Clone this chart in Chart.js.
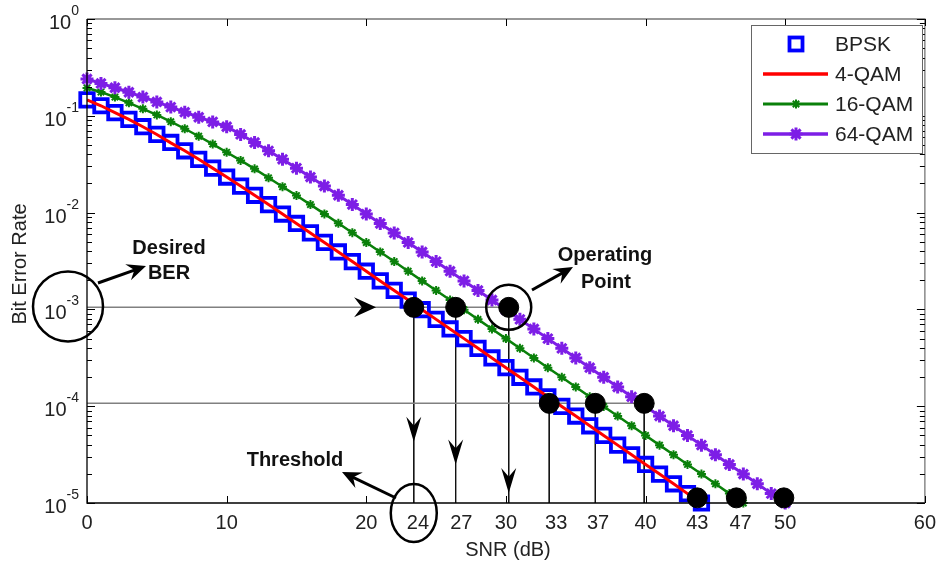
<!DOCTYPE html>
<html>
<head>
<meta charset="utf-8">
<title>BER vs SNR</title>
<script src="https://cdn.jsdelivr.net/npm/chart.js@4.4.1/dist/chart.umd.min.js"></script>
<style>
  body { margin: 0; background: #fff; }
  #wrap { width: 944px; height: 562px; }
</style>
</head>
<body>
<div id="wrap"><canvas id="berChart" width="944" height="562"></canvas></div>
<script>
// SNR axis (dB), shared by every curve
const snrDb = [0, 1, 2, 3, 4, 5, 6, 7, 8, 9, 10, 11, 12, 13, 14, 15, 16, 17, 18, 19, 20,
    21, 22, 23, 24, 25, 26, 27, 28, 29, 30, 31, 32, 33, 34, 35, 36, 37, 38, 39, 40,
    41, 42, 43, 44, 45, 46, 47, 48, 49, 50];

const berBpsk = [0.146, 0.127, 0.108, 0.0919, 0.0771, 0.0642, 0.0530, 0.0435, 0.0355, 0.0288,
    0.0233, 0.0188, 0.0151, 0.0121, 0.00966, 0.00772, 0.00617, 0.00492, 0.00392, 0.00312,
    0.00248, 0.00197, 0.00157, 0.00125, 0.000992, 0.000789, 0.000628, 0.000499, 0.000396, 0.000315,
    0.000250, 0.000199, 0.000158, 0.000125, 0.0000995, 0.0000791, 0.0000628, 0.0000499, 0.0000396, 0.0000315,
    0.0000250, 0.0000199, 0.0000158, 0.0000125, 0.0000100];

const ber4Qam = [0.146, 0.127, 0.108, 0.0919, 0.0771, 0.0642, 0.0525, 0.0435, 0.0355, 0.0288,
    0.0233, 0.0188, 0.0151, 0.0121, 0.00966, 0.00772, 0.00617, 0.00492, 0.00392, 0.00312,
    0.00248, 0.00197, 0.00157, 0.00125, 0.000992, 0.000789, 0.000628, 0.000499, 0.000396, 0.000315,
    0.000250, 0.000199, 0.000158, 0.000125, 0.0000995, 0.0000791, 0.0000628, 0.0000499, 0.0000396, 0.0000315,
    0.0000250, 0.0000199, 0.0000158, 0.0000125, 0.0000100];

const ber16Qam = [0.194, 0.176, 0.156, 0.136, 0.118, 0.102, 0.0870, 0.0735, 0.0615, 0.0510,
    0.0420, 0.0346, 0.0283, 0.0229, 0.0185, 0.0150, 0.0121, 0.00970, 0.00775, 0.00620,
    0.00490, 0.00392, 0.00312, 0.00248, 0.00197, 0.00157, 0.00125, 0.000992, 0.000789, 0.000628,
    0.000499, 0.000396, 0.000315, 0.000250, 0.000199, 0.000158, 0.000125, 0.0000995, 0.0000791, 0.0000628,
    0.0000499, 0.0000396, 0.0000315, 0.0000250, 0.0000199, 0.0000158, 0.0000125, 0.0000100];

const ber64Qam = [0.240, 0.216, 0.195, 0.175, 0.156, 0.139, 0.123, 0.109, 0.0966, 0.0865,
    0.0771, 0.0642, 0.0530, 0.0435, 0.0355, 0.0288, 0.0233, 0.0188, 0.0151, 0.0121,
    0.00966, 0.00772, 0.00617, 0.00492, 0.00392, 0.00312, 0.00248, 0.00197, 0.00157, 0.00125,
    0.000992, 0.000789, 0.000628, 0.000499, 0.000396, 0.000315, 0.000250, 0.000199, 0.000158, 0.000125,
    0.0000995, 0.0000791, 0.0000628, 0.0000499, 0.0000396, 0.0000315, 0.0000250, 0.0000199, 0.0000158, 0.0000125,
    0.0000100];

// black operating / threshold dots
const dotSnr = [23.4, 26.4, 30.2, 33.1, 36.4, 39.9, 43.7, 46.5, 49.9];
const dotBer = [1.05e-3, 1.05e-3, 1.05e-3, 1.07e-4, 1.07e-4, 1.07e-4, 1.13e-5, 1.13e-5, 1.13e-5];

// horizontal guide lines (desired BER levels) and where they stop
const hGuideBer = [1.05e-3, 1.07e-4];
const hGuideEnd = [30.2, 39.9];

// x tick labels, hand placed under the dots
const xTickValues = [0, 10, 20, 23.7, 26.8, 30, 33.6, 36.6, 40, 43.7, 46.8, 50, 60];
const xTickLabels = ['0', '10', '20', '24', '27', '30', '33', '37', '40', '43', '47', '50', '60'];

// y decades
const yDecades = [0, -1, -2, -3, -4, -5];

const FONT = '"Liberation Sans", Arial, sans-serif';
const TXT = '#222';

const toPoints = (ys) => ys.map((v, i) => ({ x: snrDb[i], y: v }));

const curves = [
    { label: 'BPSK', data: toPoints(berBpsk), showLine: false, pointStyle: 'rect', pointRadius: 9.5,
      borderColor: '#0000ff', backgroundColor: 'rgba(0,0,0,0)', pointBorderWidth: 3.8, order: 5, clip: false },
    { label: '4-QAM', data: toPoints(ber4Qam), showLine: true, borderColor: '#ff0000', borderWidth: 3,
      pointRadius: 0, order: 4 },
    { label: '16-QAM', data: toPoints(ber16Qam), showLine: true, borderColor: '#0a800a', borderWidth: 2.5,
      pointStyle: 'star', pointRadius: 4.5, pointBorderWidth: 2, pointBorderColor: '#0a800a', order: 3, clip: false },
    { label: '64-QAM', data: toPoints(ber64Qam), showLine: true, borderColor: '#7d1ee6', borderWidth: 3,
      pointStyle: 'star', pointRadius: 6.5, pointBorderWidth: 3, pointBorderColor: '#7d1ee6', order: 2, clip: false }
];

const guides = [];
hGuideBer.forEach((b, i) => {
    guides.push({ label: '_h' + i, data: [{ x: 0, y: b }, { x: hGuideEnd[i], y: b }], showLine: true,
        borderColor: '#808080', borderWidth: 1.5, pointRadius: 0, order: 7 });
});
dotSnr.slice(0, 6).forEach((s, i) => {
    guides.push({ label: '_v' + i, data: [{ x: s, y: dotBer[i] }, { x: s, y: 1e-5 }], showLine: true,
        borderColor: '#111', borderWidth: 1, pointRadius: 0, order: 7 });
});

const dots = {
    label: '_dots', data: dotSnr.map((s, i) => ({ x: s, y: dotBer[i] })), showLine: false,
    pointRadius: 10, pointBackgroundColor: '#000', pointBorderColor: '#000', pointBorderWidth: 1,
    order: 0, clip: false
};

function drawStar(ctx, x, y, r) {
    const d = r * Math.SQRT1_2;
    ctx.beginPath();
    ctx.moveTo(x - r, y); ctx.lineTo(x + r, y);
    ctx.moveTo(x, y - r); ctx.lineTo(x, y + r);
    ctx.moveTo(x - d, y - d); ctx.lineTo(x + d, y + d);
    ctx.moveTo(x - d, y + d); ctx.lineTo(x + d, y - d);
    ctx.stroke();
}

// filled arrowhead with a notched back, tip at (tx, ty)
function arrowHead(ctx, tx, ty, ang, len, wid) {
    const c = Math.cos(ang), s = Math.sin(ang);
    const bx = tx - c * len, by = ty - s * len;
    const nx = tx - c * len * 0.65, ny = ty - s * len * 0.65;
    ctx.beginPath();
    ctx.moveTo(tx, ty);
    ctx.lineTo(bx - s * wid / 2, by + c * wid / 2);
    ctx.lineTo(nx, ny);
    ctx.lineTo(bx + s * wid / 2, by - c * wid / 2);
    ctx.closePath();
    ctx.fill();
}

function callout(ctx, x0, y0, x1, y1) {
    const ang = Math.atan2(y1 - y0, x1 - x0);
    ctx.lineWidth = 3;
    ctx.beginPath();
    ctx.moveTo(x0, y0);
    ctx.lineTo(x1 - Math.cos(ang) * 10, y1 - Math.sin(ang) * 10);
    ctx.stroke();
    arrowHead(ctx, x1, y1, ang, 19, 17);
}

const decorations = {
    id: 'decorations',
    afterDraw(chart) {
        const { ctx, chartArea: a, scales } = chart;
        const x = scales.x, y = scales.y;
        ctx.save();

        // frame
        ctx.lineWidth = 1.3;
        ctx.strokeStyle = '#777';
        ctx.beginPath();
        ctx.moveTo(a.left, a.top); ctx.lineTo(a.right, a.top); ctx.lineTo(a.right, a.bottom);
        ctx.stroke();
        ctx.strokeStyle = '#000';
        ctx.beginPath();
        ctx.moveTo(a.left, a.top); ctx.lineTo(a.left, a.bottom); ctx.lineTo(a.right, a.bottom);
        ctx.stroke();

        // log ticks, inside, both sides
        ctx.lineWidth = 1;
        ctx.strokeStyle = '#000';
        ctx.beginPath();
        for (let k = -5; k <= 0; k++) {
            for (let m = 1; m <= 9; m++) {
                const v = m * Math.pow(10, k);
                if (v > 1 || (k === 0 && m > 1)) continue;
                const py = Math.round(y.getPixelForValue(v)) + 0.5;
                const len = m === 1 ? 8 : 5;
                ctx.moveTo(a.left, py); ctx.lineTo(a.left + len, py);
                ctx.moveTo(a.right, py); ctx.lineTo(a.right - len, py);
            }
        }
        for (let v = 0; v <= 60; v += 10) {
            const px = Math.round(x.getPixelForValue(v)) + 0.5;
            ctx.moveTo(px, a.bottom); ctx.lineTo(px, a.bottom - 7);
            ctx.moveTo(px, a.top); ctx.lineTo(px, a.top + 7);
        }
        ctx.stroke();

        // y tick labels 10^k
        ctx.fillStyle = TXT;
        yDecades.forEach(k => {
            const py = y.getPixelForValue(Math.pow(10, k));
            const exp = String(k);
            ctx.font = '14px ' + FONT;
            const ew = ctx.measureText(exp).width;
            const right = a.left - 8;
            ctx.textAlign = 'left';
            ctx.textBaseline = 'alphabetic';
            ctx.fillText(exp, right - ew, py - 4);
            ctx.font = '20px ' + FONT;
            ctx.textAlign = 'right';
            ctx.fillText('10', right - ew, py + 10);
        });

        // axis titles
        ctx.font = '20px ' + FONT;
        ctx.textAlign = 'center';
        ctx.textBaseline = 'middle';
        ctx.fillText('SNR (dB)', 508, 550);
        ctx.save();
        ctx.translate(20, 264);
        ctx.rotate(-Math.PI / 2);
        ctx.fillText('Bit Error Rate', 0, 0);
        ctx.restore();

        // guide arrowheads
        ctx.fillStyle = '#000';
        const yRow1 = y.getPixelForValue(hGuideBer[0]);
        arrowHead(ctx, x.getPixelForValue(20.7), yRow1, 0, 22, 20);
        arrowHead(ctx, x.getPixelForValue(dotSnr[0]), y.getPixelForValue(4.3e-5), Math.PI / 2, 25, 15);
        arrowHead(ctx, x.getPixelForValue(dotSnr[1]), y.getPixelForValue(2.5e-5), Math.PI / 2, 25, 15);
        arrowHead(ctx, x.getPixelForValue(dotSnr[2]), y.getPixelForValue(1.27e-5), Math.PI / 2, 25, 15);

        // circles
        ctx.strokeStyle = '#000';
        ctx.lineWidth = 2.5;
        ctx.beginPath();
        ctx.arc(68, y.getPixelForValue(1e-3) - 3, 35, 0, Math.PI * 2);
        ctx.stroke();
        ctx.beginPath();
        ctx.arc(x.getPixelForValue(dotSnr[2]), y.getPixelForValue(dotBer[2]), 22.5, 0, Math.PI * 2);
        ctx.stroke();
        ctx.beginPath();
        ctx.ellipse(x.getPixelForValue(dotSnr[0]), 513, 23, 29, 0, 0, Math.PI * 2);
        ctx.stroke();

        // callouts
        ctx.fillStyle = '#000';
        callout(ctx, 98, 283, 146, 266);
        callout(ctx, 532, 290, 573, 267);
        callout(ctx, 396, 498, 342, 472);

        ctx.font = 'bold 20px ' + FONT;
        ctx.textAlign = 'center';
        ctx.textBaseline = 'middle';
        ctx.fillStyle = '#111';
        ctx.fillText('Desired', 169, 248);
        ctx.fillText('BER', 169, 273);
        ctx.fillText('Operating', 605, 255);
        ctx.fillText('Point', 606, 282);
        ctx.fillText('Threshold', 295, 460);

        // legend
        const lx = 751, ly = 25, lw = 171, lh = 128;
        ctx.fillStyle = '#fff';
        ctx.fillRect(lx, ly, lw, lh);
        ctx.strokeStyle = '#666';
        ctx.lineWidth = 1;
        ctx.strokeRect(lx + 0.5, ly + 0.5, lw, lh);
        const rows = [44, 74, 104, 134];
        chart.data.datasets.slice(0, 4).forEach((ds, i) => {
            const ry = rows[i];
            ctx.strokeStyle = ds.borderColor;
            if (ds.showLine) {
                ctx.lineWidth = ds.borderWidth + 0.5;
                ctx.beginPath();
                ctx.moveTo(763, ry); ctx.lineTo(828, ry);
                ctx.stroke();
            }
            if (ds.pointStyle === 'rect') {
                ctx.lineWidth = ds.pointBorderWidth;
                ctx.strokeRect(796 - 6.5, ry - 6.5, 13, 13);
            } else if (ds.pointStyle === 'star') {
                ctx.lineWidth = ds.pointBorderWidth;
                drawStar(ctx, 796, ry, ds.pointRadius);
            }
            ctx.fillStyle = TXT;
            ctx.font = '21px ' + FONT;
            ctx.textAlign = 'left';
            ctx.textBaseline = 'middle';
            ctx.fillText(ds.label, 835, ry + 1);
        });

        ctx.restore();
    }
};

Chart.defaults.font.family = FONT;

new Chart(document.getElementById('berChart'), {
    type: 'scatter',
    data: { datasets: [...curves, ...guides, dots] },
    options: {
        responsive: false,
        animation: false,
        events: [],
        layout: { padding: { left: 87, right: 12, top: 19, bottom: 19 } },
        plugins: { legend: { display: false }, tooltip: { enabled: false } },
        scales: {
            x: {
                type: 'linear', min: 0, max: 60,
                grid: { display: false, drawTicks: false },
                border: { display: false },
                afterBuildTicks: (axis) => { axis.ticks = xTickValues.map(v => ({ value: v })); },
                ticks: {
                    autoSkip: false, maxRotation: 0, padding: 8, color: TXT,
                    font: { size: 20 },
                    callback: (v, i) => xTickLabels[i]
                },
                title: { display: false }
            },
            y: {
                type: 'logarithmic', min: 1e-5, max: 1,
                grid: { display: false, drawTicks: false },
                border: { display: false },
                ticks: { display: false }
            }
        }
    },
    plugins: [decorations]
});
</script>
</body>
</html>
